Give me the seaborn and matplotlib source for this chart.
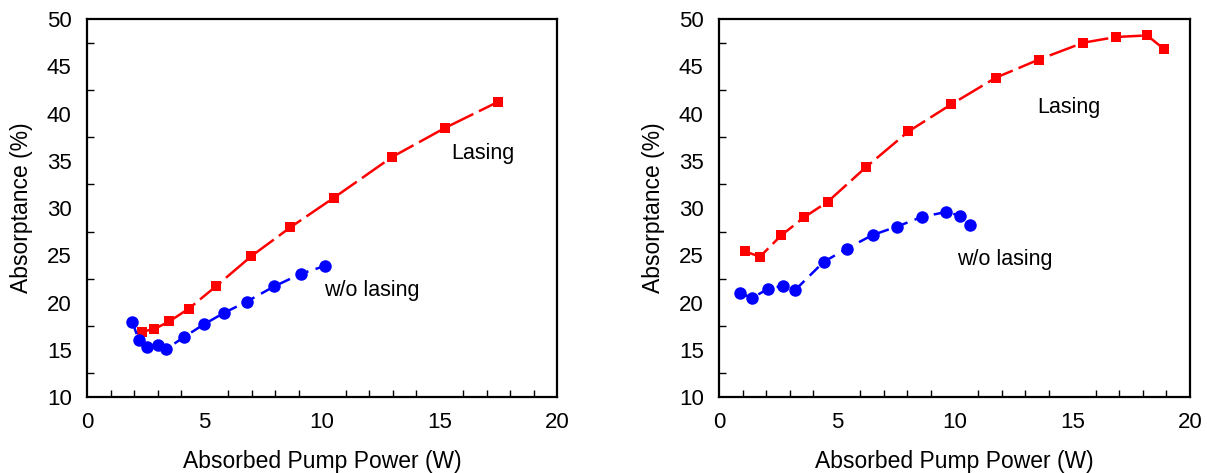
import matplotlib
matplotlib.use("Agg")
import matplotlib.pyplot as plt
import seaborn as sns
from matplotlib.ticker import MultipleLocator

# left panel
left_lasing_x = [2.33, 2.87, 3.50, 4.33, 5.48, 6.99, 8.65, 10.51, 12.98, 15.25, 17.50]
left_lasing_y = [16.9, 17.2, 18.0, 19.35, 21.7, 24.9, 27.95, 31.1, 35.4, 38.5, 41.25]
left_nolase_x = [1.93, 2.21, 2.54, 3.01, 3.36, 4.13, 4.98, 5.83, 6.80, 7.96, 9.11, 10.11]
left_nolase_y = [17.9, 16.0, 15.3, 15.5, 15.05, 16.35, 17.7, 18.9, 20.1, 21.7, 23.05, 23.86]

# right panel
right_lasing_x = [1.11, 1.74, 2.64, 3.63, 4.62, 6.23, 8.04, 9.86, 11.76, 13.57, 15.47, 16.86, 18.18, 18.88]
right_lasing_y = [25.4, 24.85, 27.1, 29.05, 30.67, 34.3, 38.1, 40.97, 43.8, 45.7, 47.5, 48.1, 48.27, 46.86]
right_nolase_x = [0.89, 1.42, 2.09, 2.71, 3.22, 4.44, 5.42, 6.52, 7.54, 8.64, 9.65, 10.24, 10.65]
right_nolase_y = [20.97, 20.5, 21.46, 21.75, 21.29, 24.29, 25.7, 27.14, 28.02, 29.08, 29.58, 29.19, 28.23]

sns.set_style("white")
plt.rcParams['font.family'] = ['Liberation Sans', 'DejaVu Sans']
plt.rcParams['text.color'] = 'black'
plt.rcParams['axes.labelcolor'] = 'black'
plt.rcParams['xtick.color'] = 'black'
plt.rcParams['ytick.color'] = 'black'

fig = plt.figure(figsize=(12.07, 4.73), dpi=100)
ax1 = fig.add_axes([0.0721, 0.1607, 0.3894, 0.799])
ax2 = fig.add_axes([0.5957, 0.1607, 0.3902, 0.799])


def draw_panel(ax, lx, ly, nx, ny, lasing_pos, nolase_pos):
    sns.lineplot(x=lx, y=ly, ax=ax, color='#ff0000', marker='s', markersize=7.5,
                 mec='#ff0000', mew=0, linewidth=1.8, linestyle=(0, (11, 2.5)),
                 errorbar=None)
    sns.lineplot(x=nx, y=ny, ax=ax, color='#0000ff', marker='o', markersize=9,
                 mec='#0000ff', mew=0, linewidth=1.8, linestyle=(0, (5, 3)),
                 errorbar=None)
    ax.text(lasing_pos[0], lasing_pos[1], "Lasing", fontsize=15.5, va='center', ha='left')
    ax.text(nolase_pos[0], nolase_pos[1], "w/o lasing", fontsize=15.5, va='center', ha='left')

    ax.set_xlim(0, 20)
    ax.set_ylim(10, 50)
    ax.xaxis.set_major_locator(MultipleLocator(5))
    ax.xaxis.set_minor_locator(MultipleLocator(1))
    ax.yaxis.set_major_locator(MultipleLocator(5))
    ax.yaxis.set_minor_locator(MultipleLocator(2.5))
    ax.tick_params(which='major', direction='in', length=10, width=1.2,
                   labelsize=16, pad=11, top=False, right=False)
    ax.tick_params(which='minor', direction='in', length=5, width=1.0,
                   top=False, right=False, bottom=True, left=True)
    for sp in ax.spines.values():
        sp.set_linewidth(1.6)
        sp.set_color('black')
    ax.set_xlabel("Absorbed Pump Power (W)", fontsize=16.5, labelpad=12)
    ax.set_ylabel("Absorptance (%)", fontsize=16.5, labelpad=10)


draw_panel(ax1, left_lasing_x, left_lasing_y, left_nolase_x, left_nolase_y,
           (15.5, 35.8), (10.1, 21.3))
draw_panel(ax2, right_lasing_x, right_lasing_y, right_nolase_x, right_nolase_y,
           (13.5, 40.6), (10.1, 24.55))

fig.savefig("out.png", dpi=100)
